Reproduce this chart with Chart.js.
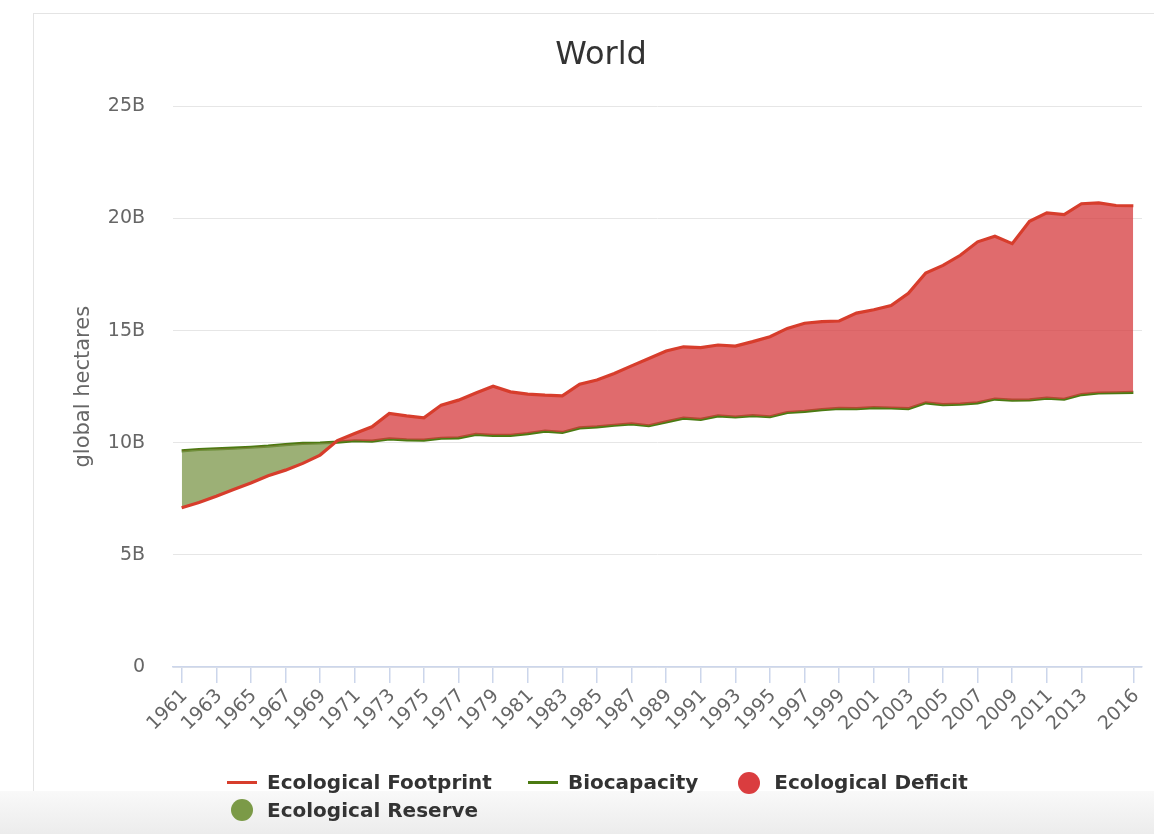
<!DOCTYPE html>
<html>
<head>
<meta charset="utf-8">
<script src="https://cdn.jsdelivr.net/npm/chart.js@4.4.1/dist/chart.umd.min.js"></script>
<style>
html,body{margin:0;padding:0;background:#fff;}
#wrap{position:relative;width:1154px;height:834px;overflow:hidden;}
#frame{position:absolute;left:33px;top:13px;width:1200px;height:900px;border-top:1px solid #e4e4e4;border-left:1px solid #e4e4e4;}
#band{position:absolute;left:0;right:0;top:791px;bottom:0;background:linear-gradient(#f9f9f9,#ececec);}
#chartBox{position:absolute;left:0;top:0;width:1154px;height:834px;}
#legend{position:absolute;left:227px;top:769px;width:760px;display:flex;flex-wrap:wrap;column-gap:36px;font-family:"DejaVu Sans";font-weight:bold;font-size:20px;color:#333;line-height:27.5px;}
.item{display:flex;align-items:center;white-space:nowrap;}
.sym{width:30px;height:27.5px;display:flex;align-items:center;justify-content:center;margin-right:10px;}
.line{width:30px;height:3px;}
.dot{width:22px;height:22px;border-radius:50%;}
</style>
</head>
<body>
<div id="wrap">
  <div id="frame"></div>
  <div id="band"></div>
  <div id="chartBox"><canvas id="c"></canvas></div>
  <div id="legend"></div>
</div>
<script>
// ---- data (billions of global hectares) ----
const years = ['1961','1962','1963','1964','1965','1966','1967','1968','1969','1970',
  '1971','1972','1973','1974','1975','1976','1977','1978','1979','1980',
  '1981','1982','1983','1984','1985','1986','1987','1988','1989','1990',
  '1991','1992','1993','1994','1995','1996','1997','1998','1999','2000',
  '2001','2002','2003','2004','2005','2006','2007','2008','2009','2010',
  '2011','2012','2013','2014','2015','2016'];

const tickYears = ['1961','1963','1965','1967','1969','1971','1973','1975','1977','1979',
  '1981','1983','1985','1987','1989','1991','1993','1995','1997','1999',
  '2001','2003','2005','2007','2009','2011','2013','2016'];

const footprint = [7.10,7.34,7.62,7.92,8.21,8.53,8.78,9.08,9.45,10.10,
  10.41,10.71,11.31,11.20,11.11,11.68,11.90,12.22,12.52,12.27,
  12.17,12.12,12.09,12.61,12.80,13.09,13.43,13.76,14.09,14.28,
  14.24,14.36,14.31,14.51,14.73,15.10,15.33,15.40,15.43,15.78,
  15.93,16.12,16.67,17.57,17.91,18.36,18.96,19.21,18.88,19.88,
  20.25,20.18,20.66,20.70,20.58,20.57];

const biocapacity = [9.64,9.70,9.73,9.76,9.80,9.85,9.92,9.97,9.99,10.03,
  10.09,10.07,10.17,10.13,10.12,10.20,10.22,10.37,10.33,10.33,
  10.41,10.52,10.46,10.66,10.71,10.78,10.84,10.76,10.93,11.10,
  11.04,11.20,11.15,11.21,11.16,11.35,11.40,11.48,11.53,11.52,
  11.57,11.55,11.52,11.78,11.70,11.72,11.78,11.95,11.90,11.91,
  11.99,11.94,12.15,12.22,12.23,12.25];

const yTicks = [0,5,10,15,20,25];

const seriesNames = ['Ecological Footprint','Biocapacity','Ecological Deficit','Ecological Reserve'];
const seriesColors = ['#d73d2c','#4b7a12','#da3d3f','#7b9a47'];
const seriesSymbols = ['line','line','dot','dot'];

// ---- legend (HTML) ----
const lg = document.getElementById('legend');
seriesNames.forEach((name, i) => {
  const it = document.createElement('div'); it.className = 'item';
  const sym = document.createElement('span'); sym.className = 'sym';
  const mark = document.createElement('span'); mark.className = seriesSymbols[i];
  mark.style.background = seriesColors[i];
  sym.appendChild(mark);
  const tx = document.createElement('span'); tx.textContent = name;
  it.appendChild(sym); it.appendChild(tx);
  lg.appendChild(it);
});

new Chart(document.getElementById('c'), {
  type: 'line',
  data: {
    labels: years,
    datasets: [
      {
        label: seriesNames[0],
        data: footprint,
        borderColor: seriesColors[0],
        borderWidth: 3.2,
        pointRadius: 0,
        tension: 0,
        fill: {target: 1, above: 'rgba(214,58,60,0.75)', below: 'rgba(123,150,72,0.75)'}
      },
      {
        label: seriesNames[1],
        data: biocapacity,
        borderColor: seriesColors[1],
        borderWidth: 3.2,
        pointRadius: 0,
        tension: 0,
        fill: false
      }
    ]
  },
  options: {
    responsive: true,
    maintainAspectRatio: false,
    animation: false,
    layout: {padding: {left: 60, right: 12, top: 0, bottom: 87}},
    plugins: {
      legend: {display: false},
      tooltip: {enabled: false},
      title: {
        display: true,
        text: 'World',
        color: '#333',
        font: {family: 'DejaVu Sans', size: 32, weight: 'normal'},
        padding: {top: 36, bottom: 32}
      }
    },
    scales: {
      x: {
        type: 'category',
        offset: true,
        afterFit: s => { s.height = 80; s.paddingRight = 0; s.paddingLeft = 0; },
        border: {display: true, color: '#ccd6eb', width: 1.5},
        grid: {
          drawOnChartArea: false,
          drawTicks: true,
          tickLength: 16,
          lineWidth: 1.5,
          color: c => (c.tick && c.tick.label) ? '#ccd6eb' : 'rgba(0,0,0,0)'
        },
        ticks: {
          autoSkip: false,
          maxRotation: 45,
          minRotation: 45,
          padding: 2,
          labelOffset: 3,
          color: '#666',
          font: {family: 'DejaVu Sans', size: 19},
          callback: function(v) {
            const l = this.getLabelForValue(v);
            return tickYears.includes(l) ? l : '';
          }
        }
      },
      y: {
        min: 0,
        max: 25,
        afterFit: s => { s.width = 113; },
        afterBuildTicks: s => { s.ticks = yTicks.map(v => ({value: v})); },
        border: {display: false},
        grid: {color: '#e6e6e6', lineWidth: 1, drawTicks: false},
        ticks: {
          padding: 28,
          color: '#666',
          font: {family: 'DejaVu Sans', size: 19},
          callback: v => v === 0 ? '0' : v + 'B'
        },
        title: {
          display: true,
          text: 'global hectares',
          color: '#666',
          font: {family: 'DejaVu Sans', size: 21},
          padding: {top: 11.4, bottom: 0}
        }
      }
    }
  }
});
</script>
</body>
</html>
